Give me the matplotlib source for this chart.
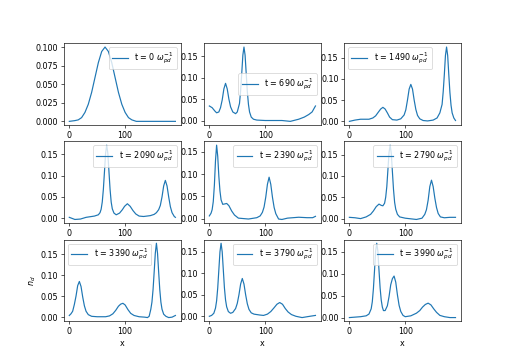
from matplotlib import pyplot as plt
import numpy as np

# times of the snapshots (in 1/omega_pd)
times = [0, 690, 1490, 2090, 2390, 2790, 3390, 3790, 3990]

# dust density profiles
x0 = [0, 10, 16, 22, 28, 34, 40, 46, 52, 58, 64, 70, 76, 82, 88, 94, 100, 106, 112, 120, 190]
n0 = [0.000, 0.001, 0.002, 0.005, 0.012, 0.023, 0.039, 0.059, 0.079, 0.094, 0.100, 0.094, 0.079,
      0.059, 0.039, 0.023, 0.012, 0.005, 0.002, 0.000, 0.000]

x1 = [0, 5, 10, 13, 17, 20, 23, 26, 29, 32, 35, 38, 42, 47, 50, 54, 56, 58, 60, 62, 64, 66, 68,
      70, 72, 75, 79, 85, 100, 130, 145, 160, 170, 178, 184, 190]
n1 = [0.034, 0.030, 0.022, 0.018, 0.020, 0.030, 0.048, 0.074, 0.087, 0.074, 0.050, 0.032, 0.020,
      0.016, 0.020, 0.040, 0.070, 0.110, 0.153, 0.172, 0.153, 0.110, 0.068, 0.038, 0.020, 0.008,
      0.003, 0.001, 0.000, 0.000, -0.002, 0.003, 0.008, 0.014, 0.020, 0.034]

x2 = [0, 10, 20, 35, 42, 47, 52, 56, 60, 64, 68, 72, 77, 85, 92, 98, 101, 104, 107, 110, 113, 116,
      119, 122, 126, 132, 140, 150, 157, 162, 166, 168, 170, 172, 174, 176, 178, 180, 182, 184,
      187, 190]
n2 = [0.000, 0.003, 0.005, 0.005, 0.008, 0.013, 0.022, 0.029, 0.033, 0.029, 0.020, 0.010, 0.004,
      0.003, 0.006, 0.015, 0.027, 0.050, 0.076, 0.087, 0.076, 0.050, 0.028, 0.014, 0.006, 0.002,
      0.001, 0.003, 0.008, 0.020, 0.040, 0.070, 0.110, 0.155, 0.175, 0.155, 0.110, 0.068, 0.038,
      0.020, 0.008, 0.002]

x3 = [0, 10, 20, 30, 45, 52, 55, 57, 59, 61, 63, 65, 67, 69, 71, 73, 75, 77, 80, 84, 90, 95, 99,
      104, 109, 114, 119, 125, 133, 145, 152, 156, 160, 163, 166, 169, 172, 175, 178, 181, 184,
      188, 190]
n3 = [0.002, -0.003, -0.002, 0.002, 0.005, 0.008, 0.013, 0.021, 0.038, 0.068, 0.110, 0.153, 0.172,
      0.153, 0.110, 0.068, 0.038, 0.022, 0.012, 0.008, 0.012, 0.020, 0.028, 0.034, 0.028, 0.018,
      0.010, 0.005, 0.004, 0.006, 0.009, 0.013, 0.020, 0.030, 0.050, 0.076, 0.089, 0.076, 0.050,
      0.027, 0.013, 0.004, 0.002]

x4 = [0, 3, 5, 7, 9, 11, 13, 15, 17, 19, 21, 24, 28, 31, 35, 40, 45, 52, 70, 85, 91, 95, 98, 101,
      104, 107, 110, 113, 116, 119, 124, 130, 140, 160, 175, 185, 190]
n4 = [0.006, 0.012, 0.020, 0.038, 0.075, 0.130, 0.165, 0.140, 0.095, 0.062, 0.042, 0.032, 0.033,
      0.034, 0.029, 0.017, 0.008, 0.001, -0.001, 0.002, 0.006, 0.014, 0.026, 0.048, 0.077, 0.093,
      0.077, 0.048, 0.025, 0.011, -0.001, -0.002, 0.001, 0.003, 0.002, 0.002, 0.005]

x5 = [0, 10, 20, 30, 38, 43, 48, 53, 57, 60, 63, 65, 67, 69, 71, 73, 75, 77, 79, 81, 83, 86, 90,
      100, 120, 130, 135, 138, 141, 144, 147, 150, 153, 156, 159, 163, 170, 180, 190]
n5 = [0.003, 0.002, 0.000, 0.004, 0.010, 0.018, 0.028, 0.034, 0.031, 0.030, 0.036, 0.050, 0.075,
      0.115, 0.155, 0.172, 0.153, 0.110, 0.068, 0.038, 0.022, 0.010, 0.004, 0.001, -0.002, 0.001,
      0.010, 0.021, 0.043, 0.075, 0.090, 0.075, 0.048, 0.026, 0.012, 0.004, 0.002, 0.003, 0.003]

x6 = [0, 3, 6, 9, 12, 15, 18, 21, 24, 27, 30, 34, 40, 50, 65, 72, 78, 83, 88, 92, 96, 100, 105,
      110, 116, 125, 135, 140, 143, 146, 148, 150, 152, 154, 156, 158, 160, 162, 164, 166, 169,
      173, 178, 184, 190]
n6 = [0.004, 0.008, 0.014, 0.030, 0.050, 0.075, 0.085, 0.073, 0.048, 0.027, 0.014, 0.006, 0.002,
      0.001, 0.001, 0.003, 0.008, 0.016, 0.026, 0.031, 0.033, 0.029, 0.018, 0.009, 0.004, 0.001,
      0.000, -0.001, 0.002, 0.019, 0.036, 0.066, 0.108, 0.152, 0.176, 0.152, 0.108, 0.066, 0.036,
      0.019, 0.007, 0.002, -0.001, 0.000, 0.004]

x7 = [0, 4, 8, 11, 13, 15, 17, 19, 21, 23, 25, 27, 29, 31, 34, 38, 42, 47, 50, 53, 56, 59, 62, 65,
      68, 71, 75, 80, 90, 97, 104, 110, 116, 121, 126, 131, 136, 141, 147, 155, 166, 180, 190]
n7 = [0.000, 0.002, 0.007, 0.019, 0.036, 0.066, 0.108, 0.150, 0.170, 0.150, 0.108, 0.066, 0.038,
      0.022, 0.011, 0.007, 0.009, 0.018, 0.030, 0.050, 0.075, 0.088, 0.075, 0.050, 0.029, 0.016,
      0.008, 0.005, 0.003, 0.002, 0.005, 0.011, 0.020, 0.028, 0.032, 0.028, 0.018, 0.010, 0.004,
      0.000, -0.003, 0.000, 0.002]

x8 = [0, 20, 30, 35, 39, 41, 43, 45, 47, 49, 51, 53, 55, 57, 59, 61, 64, 68, 71, 74, 77, 80, 83,
      86, 89, 92, 96, 100, 110, 120, 126, 131, 136, 141, 146, 151, 156, 162, 170, 180, 190]
n8 = [0.000, 0.002, 0.004, 0.008, 0.020, 0.036, 0.066, 0.108, 0.152, 0.170, 0.152, 0.108, 0.068,
      0.040, 0.024, 0.016, 0.016, 0.027, 0.048, 0.075, 0.089, 0.095, 0.081, 0.052, 0.028, 0.014,
      0.005, 0.002, 0.004, 0.010, 0.016, 0.024, 0.030, 0.033, 0.029, 0.020, 0.012, 0.005, 0.002,
      0.000, 0.000]

xs = [x0, x1, x2, x3, x4, x5, x6, x7, x8]
ns = [n0, n1, n2, n3, n4, n5, n6, n7, n8]
legloc = ['upper right', 'center right', 'upper left', 'upper right', 'upper right',
          'upper right', 'upper left', 'upper right', 'upper right']

dpi = 57.5
fig, axs = plt.subplots(3, 3, figsize=(512/dpi, 361/dpi), dpi=dpi)

for i, ax in enumerate(axs.flat):
    ax.plot(xs[i], ns[i], label=r't = %d $\omega_{pd}^{-1}$' % times[i])
    ax.legend(loc=legloc[i])

for ax in axs[2]:
    ax.set_xlabel('x')
axs[2, 0].set_ylabel(r'$n_d$')

plt.savefig('out.png', dpi=dpi)
